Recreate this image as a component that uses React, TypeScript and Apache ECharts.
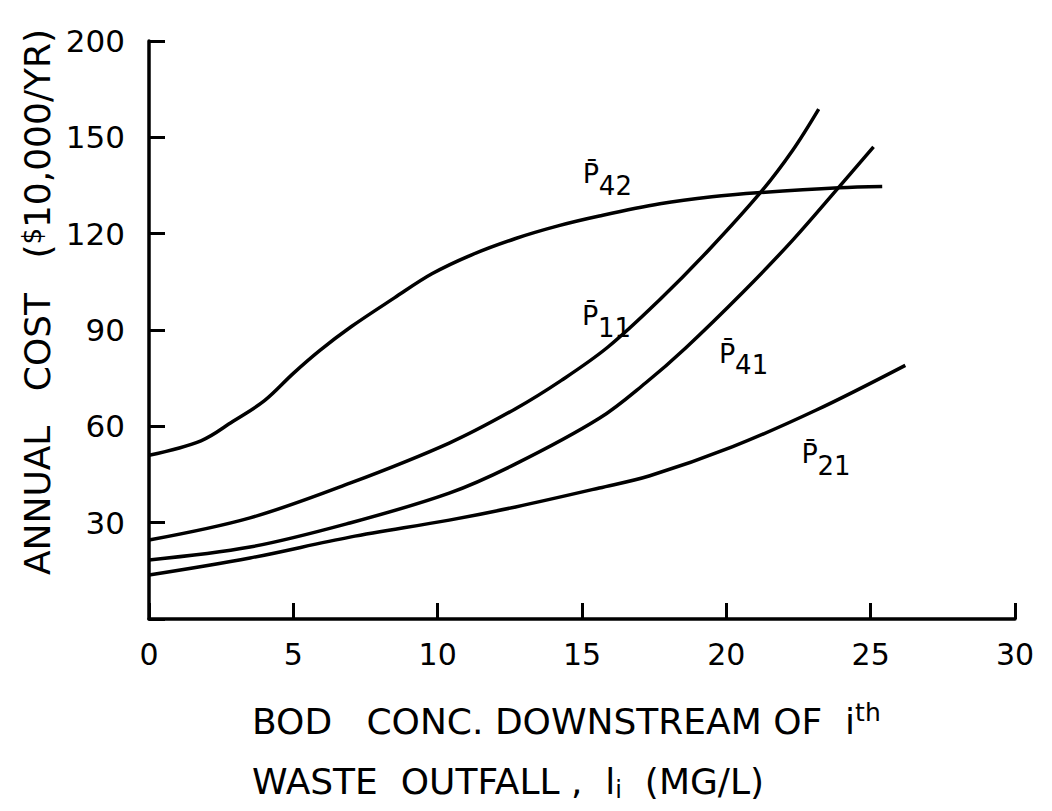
import React, { useEffect, useRef } from "react";
import * as echarts from "echarts";

// ---- data ----
const xTickLabels = ["0", "5", "10", "15", "20", "25", "30"];
const yTickValues = [0, 30, 60, 90, 120, 150, 180];
const yTickLabels = ["", "30", "60", "90", "120", "150", "200"];

const p42X = [0, 1.8, 2.9, 4.0, 5.0, 5.9, 7.0, 8.5, 9.8, 11.2, 12.7, 14.2, 15.6, 17.7, 19.5, 21.2, 23.9, 25.4];
const p42Y = [51, 55.5, 61.5, 68, 76.5, 83.5, 91, 100, 107.5, 113.5, 118.5, 122.5, 125.5, 129.3, 131.5, 132.8, 134.3, 134.7];

const p11X = [0, 3.5, 6.96, 10.4, 12.7, 14.3, 15.9, 17.7, 19.4, 21.2, 22.3, 23.2];
const p11Y = [24.6, 31.5, 42.3, 54.8, 65.5, 74.4, 84.7, 99.5, 115, 133, 146, 158.8];

const p41X = [0, 3.5, 6.96, 10.4, 12.7, 15.6, 17.2, 18.6, 20.6, 22.3, 23.9, 25.1];
const p41Y = [18.4, 22.4, 29.9, 39.2, 48.3, 62.5, 73.5, 84.5, 102, 118, 134.5, 147];

const p21X = [0, 3.5, 6.96, 10.4, 12.7, 15.6, 17.35, 20.2, 23.1, 26.2];
const p21Y = [13.7, 19, 25.5, 30.8, 34.9, 40.8, 44.6, 53.6, 65, 79];

const seriesNames = ["P42", "P11", "P41", "P21"];
const labelSubs = ["42", "11", "41", "21"];
const labelAnchorX = [15.03, 15.0, 19.75, 22.6];
const labelAnchorY = [138.6, 94.4, 82.8, 51.4];

const yTitleA = "ANNUAL   COST   (";
const yTitleDollar = "$";
const yTitleB = "10,000/YR)";
const xTitle1 = "BOD   CONC. DOWNSTREAM OF  i";
const xTitle1Sup = "th";
const xTitle2a = "WASTE  OUTFALL ,  l";
const xTitle2Sub = "i";
const xTitle2b = "(MG/L)";

const FONT = "DejaVu Sans";

function pairs(xs: number[], ys: number[]) {
  return xs.map((x, i) => [x, ys[i]]);
}

export default function App() {
  const ref = useRef<HTMLDivElement>(null);
  useEffect(() => {
    if (!ref.current) return;
    const chart = echarts.init(ref.current, undefined, { renderer: "svg" });
    const allData = [pairs(p42X, p42Y), pairs(p11X, p11Y), pairs(p41X, p41Y), pairs(p21X, p21Y)];
    chart.setOption({
      animation: false,
      backgroundColor: "#ffffff",
      grid: { left: 149, right: 37, top: 41, bottom: 192, containLabel: false },
      xAxis: {
        type: "value",
        min: 0,
        max: 30,
        interval: 5,
        axisLine: { show: true, lineStyle: { color: "#000", width: 3.5 } },
        axisTick: { show: true, inside: true, length: 16, lineStyle: { color: "#000", width: 3 } },
        axisLabel: {
          color: "#000",
          fontFamily: FONT,
          fontSize: 30,
          margin: 20,
          formatter: (v: number) => xTickLabels[Math.round(v / 5)] ?? "",
        },
        splitLine: { show: false },
      },
      yAxis: {
        type: "value",
        min: 0,
        max: 180,
        interval: 30,
        axisLine: { show: true, lineStyle: { color: "#000", width: 3.5 } },
        axisTick: { show: true, inside: true, length: 16, lineStyle: { color: "#000", width: 3 } },
        axisLabel: {
          color: "#000",
          fontFamily: FONT,
          fontSize: 31,
          margin: 24,
          formatter: (v: number) => {
            const i = yTickValues.indexOf(Math.round(v));
            return i >= 0 ? yTickLabels[i] : "";
          },
        },
        splitLine: { show: false },
      },
      series: allData.map((d, i) => ({
        name: seriesNames[i],
        type: "line",
        data: d,
        smooth: 0.35,
        showSymbol: false,
        lineStyle: { color: "#000", width: 3.5 },
      })),
    });

    const graphics: any[] = [];
    for (let i = 0; i < labelSubs.length; i++) {
      const [px, py] = chart.convertToPixel({ gridIndex: 0 }, [labelAnchorX[i], labelAnchorY[i]]) as number[];
      graphics.push({
        type: "group",
        x: px,
        y: py,
        children: [
          {
            type: "text",
            x: 0,
            y: 0,
            style: { text: "P\u0304", font: `27px '${FONT}'`, fill: "#000", verticalAlign: "middle", align: "left" },
          },
          {
            type: "text",
            x: 16,
            y: 12,
            style: { text: labelSubs[i], font: `26px '${FONT}'`, fill: "#000", verticalAlign: "middle", align: "left" },
          },
        ],
      });
    }
    graphics.push({
      type: "text",
      x: 37,
      y: 302,
      rotation: Math.PI / 2,
      style: {
        text: `${yTitleA}{d|${yTitleDollar}}${yTitleB}`,
        font: `36px '${FONT}'`,
        fill: "#000",
        align: "center",
        verticalAlign: "middle",
        rich: { d: { fontSize: 26, fontFamily: FONT, padding: [0, 0, 10, 0] } },
      },
    });
    graphics.push({
      type: "text",
      x: 252,
      y: 721,
      style: {
        text: `${xTitle1}{s|${xTitle1Sup}}`,
        font: `36px '${FONT}'`,
        fill: "#000",
        verticalAlign: "middle",
        rich: { s: { fontSize: 25, fontFamily: FONT, padding: [0, 0, 18, 0] } },
      },
    });
    graphics.push({
      type: "text",
      x: 252,
      y: 781,
      style: {
        text: `${xTitle2a}{s|${xTitle2Sub}}  ${xTitle2b}`,
        font: `36px '${FONT}'`,
        fill: "#000",
        verticalAlign: "middle",
        rich: { s: { fontSize: 24, fontFamily: FONT, padding: [18, 0, 0, 0] } },
      },
    });
    chart.setOption({ graphic: graphics });

    return () => chart.dispose();
  }, []);
  return <div ref={ref} style={{ position: "absolute", left: 0, top: 0, width: 1052, height: 811 }} />;
}
